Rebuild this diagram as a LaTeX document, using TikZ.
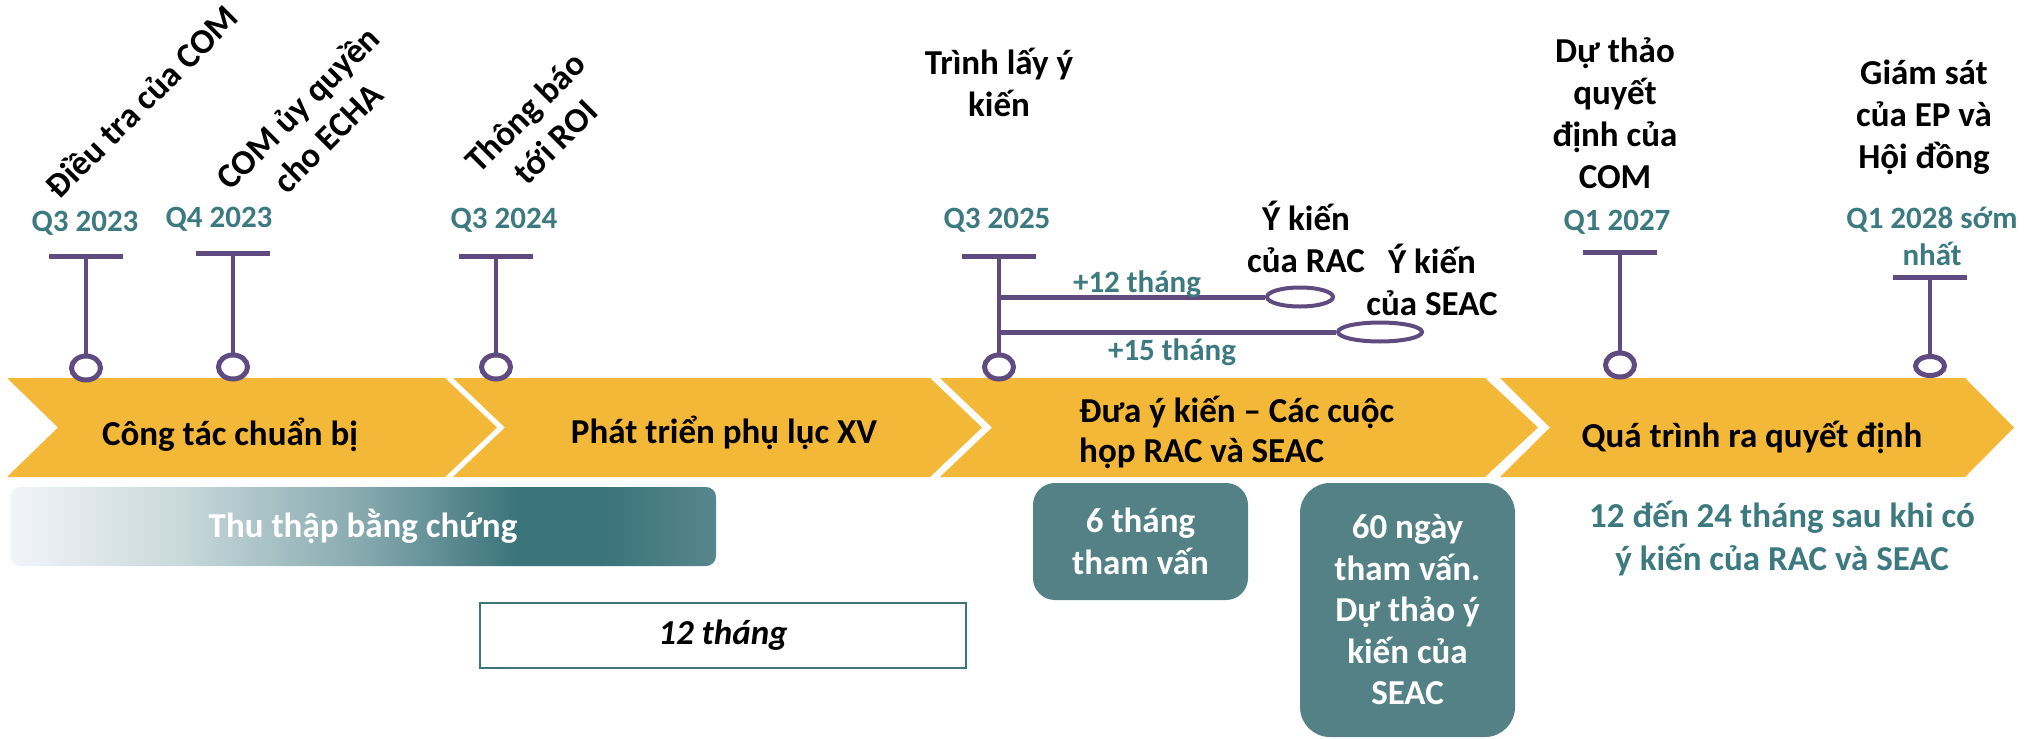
\documentclass[tikz,border=0pt]{standalone}
\usepackage{fontspec}
\setmainfont{Carlito}
\usetikzlibrary{shapes.geometric,calc}
\definecolor{yel}{HTML}{F3B838}
\definecolor{pur}{HTML}{5F4B7F}
\definecolor{tealt}{HTML}{3C7A80}
\definecolor{boxc}{HTML}{548186}
\definecolor{brd}{HTML}{3F7479}
\definecolor{gA}{HTML}{F2F5F9}
\definecolor{gB}{HTML}{C9D9DC}
\definecolor{gC}{HTML}{86A9AE}
\definecolor{gD}{HTML}{3A737A}
\definecolor{gE}{HTML}{57878C}
\pgfdeclarehorizontalshading{thushade}{100bp}{color(0bp)=(gA); color(25bp)=(gA); color(37bp)=(gB); color(50bp)=(gC); color(61bp)=(gD); color(67bp)=(gD); color(75bp)=(gE); color(100bp)=(gE)}
\tikzset{
 chev/.style={fill=yel},
 lbl/.style={inner sep=0pt, font=\fontsize{35}{42}\selectfont\bfseries, align=center},
 qlbl/.style={inner sep=0pt, font=\fontsize{31}{37}\selectfont\bfseries, text=tealt, align=center},
 tbar/.style={draw=pur, line width=5pt},
 stem/.style={draw=pur, line width=4.5pt},
 ring/.style={ellipse, draw=pur, line width=5pt, fill=white, inner sep=0pt, minimum width=29pt, minimum height=24pt},
 oval/.style={ellipse, draw=pur, line width=4pt, fill=white, inner sep=0pt, minimum height=19pt},
 tbox/.style={fill=boxc, text=white, inner sep=0pt, font=\fontsize{35}{41.5}\selectfont\bfseries, align=center},
}
\begin{document}
\begin{tikzpicture}[x=1pt,y=-1pt]
\useasboundingbox (0,0) rectangle (2030,739);
% chevrons
\fill[chev] (7,378) -- (445,378) -- (497,427.5) -- (445,477) -- (7,477) -- (58,427.5) -- cycle;
\fill[chev] (453,378) -- (930,378) -- (982,427.5) -- (930,477) -- (453,477) -- (505,427.5) -- cycle;
\fill[chev] (940,378) -- (1485,378) -- (1538,427.5) -- (1485,477) -- (940,477) -- (992,427.5) -- cycle;
\fill[chev] (1500,378) -- (1965,378) -- (2014,427.5) -- (1965,477) -- (1500,477) -- (1550,427.5) -- cycle;
% milestones
\coordinate (t1) at (86,256);
\coordinate (t2) at (233,253);
\coordinate (t3) at (496,256);
\coordinate (t4) at (999,256);
\coordinate (t5) at (1620,252);
\coordinate (t6) at (1930,277);
\coordinate (b1) at (999,297);
\coordinate (b2) at (999,332);
\node[ring] (c1) at (86,368) {};
\node[ring] (c2) at (233,367) {};
\node[ring] (c3) at (496,367) {};
\node[ring] (c4) at (999,367) {};
\node[ring] (c5) at (1620,365) {};
\node[ring, minimum height=19pt] (c6) at (1930,366) {};
\node[oval, minimum width=66pt] (e1) at (1300,297) {};
\node[oval, minimum width=84pt] (e2) at (1380,332) {};
\foreach \i in {1,...,6}{
  \draw[tbar] ($(t\i)+(-37,0)$) -- ($(t\i)+(37,0)$);
  \draw[stem] (t\i) -- (c\i);
}
\draw[tbar] (b1) -- (e1);
\draw[tbar] (b2) -- (e2);
% top labels
\node[lbl, rotate=45] (l1) at (141,101) {Điều tra của COM};
\node[lbl, rotate=45] (l2) at (312,122) {COM ủy quyền\\cho ECHA};
\node[lbl, rotate=45] (l3) at (540,127) {Thông báo\\tới ROI};
\node[lbl, anchor=base] (l4) at (999,116) {Trình lấy ý\\kiến};
\node[lbl, anchor=base] (l5) at (1306,272) {Ý kiến\\của RAC};
\node[lbl, anchor=base] (l6) at (1432,315) {Ý kiến\\của SEAC};
\node[lbl, anchor=base] (l7) at (1615,188) {Dự thảo\\quyết\\định của\\COM};
\node[lbl, anchor=base] (l8) at (1924,168) {Giám sát\\của EP và\\Hội đồng};
% dates
\node[qlbl, anchor=base] (q1) at (85,231) {Q3 2023};
\node[qlbl, anchor=base] (q2) at (219,227) {Q4 2023};
\node[qlbl, anchor=base] (q3) at (504,228) {Q3 2024};
\node[qlbl, anchor=base] (q4) at (997,228) {Q3 2025};
\node[qlbl, anchor=base] (q5) at (1617,230) {Q1 2027};
\node[qlbl, anchor=base] (q6) at (1932,265) {Q1 2028 sớm\\nhất};
\node[qlbl, anchor=base] (p12) at (1137,292) {+12 tháng};
\node[qlbl, anchor=base] (p15) at (1172,360) {+15 tháng};
% chevron texts
\node[lbl, anchor=base] (s1) at (230,445) {Công tác chuẩn bị};
\node[lbl, anchor=base] (s2) at (724,443) {Phát triển phụ lục XV};
\node[lbl, anchor=base west, align=left, font=\fontsize{35}{40}\selectfont\bfseries] (s3) at (1079,462) {Đưa ý kiến – Các cuộc\\họp RAC và SEAC};
\node[lbl, anchor=base] (s4) at (1752,447) {Quá trình ra quyết định};
% lower boxes
\node[inner sep=0pt, minimum width=706pt, minimum height=79pt, rounded corners=10pt, shading=thushade, text=white, font=\fontsize{35}{42}\selectfont\bfseries] (thu) at (363,526.5) {Thu thập bằng chứng};
\node[draw=brd, line width=2pt, fill=white, minimum width=486pt, minimum height=65pt, inner sep=0pt, font=\fontsize{35}{42}\selectfont\bfseries\itshape] (m12) at (723,635.5) {12 tháng};
\node[tbox, minimum width=215pt, minimum height=117pt, rounded corners=22pt] (b6) at (1140.5,541.5) {6 tháng\\tham vấn};
\node[tbox, minimum width=215pt, minimum height=254pt, rounded corners=30pt] (b60) at (1407.5,610) {60 ngày\\tham vấn.\\Dự thảo ý\\kiến của\\SEAC};
\node[lbl, anchor=base, text=tealt, font=\fontsize{35}{43}\selectfont\bfseries] (dec) at (1782,570) {12 đến 24 tháng sau khi có\\ý kiến của RAC và SEAC};
\end{tikzpicture}
\end{document}
